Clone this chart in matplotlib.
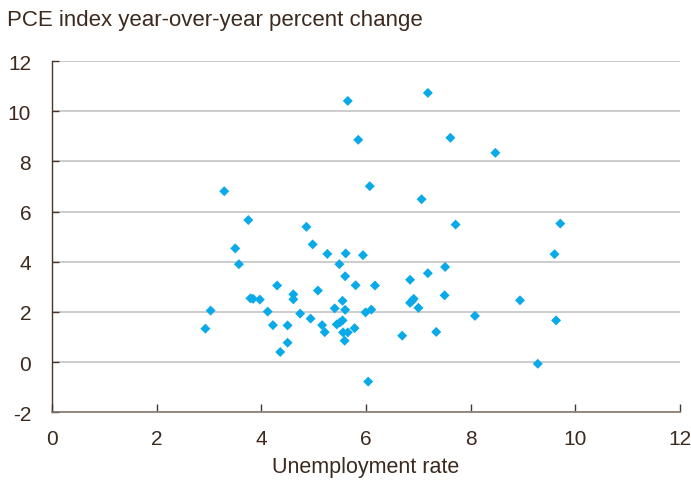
import matplotlib.pyplot as plt

# unemployment rate vs PCE inflation
unemployment = [2.93, 3.03, 3.29, 3.50, 3.57, 3.75, 3.79, 3.84, 3.97, 4.12,
                4.22, 4.30, 4.36, 4.50, 4.50, 4.61, 4.61, 4.74, 4.86, 4.94,
                4.98, 5.08, 5.16, 5.21, 5.26, 5.40, 5.44, 5.50, 5.49, 5.55,
                5.55, 5.56, 5.59, 5.60, 5.60, 5.61, 5.65, 5.65, 5.78, 5.80,
                5.85, 5.94, 5.99, 6.07, 6.04, 6.10, 6.17, 6.69, 6.84, 6.84,
                6.88, 6.91, 7.00, 7.06, 7.18, 7.18, 7.34, 7.50, 7.51, 7.61,
                7.71, 8.08, 8.47, 8.94, 9.28, 9.60, 9.63, 9.71]
pce_change = [1.33, 2.05, 6.81, 4.53, 3.90, 5.66, 2.54, 2.52, 2.49, 2.01,
              1.47, 3.05, 0.40, 1.46, 0.77, 2.70, 2.50, 1.93, 5.39, 1.73,
              4.69, 2.85, 1.47, 1.19, 4.31, 2.14, 1.50, 1.58, 3.90, 1.66,
              2.44, 1.18, 0.85, 3.42, 2.08, 4.33, 1.18, 10.41, 1.35, 3.06,
              8.86, 4.26, 1.98, 7.01, -0.78, 2.09, 3.05, 1.05, 3.28, 2.36,
              2.44, 2.52, 2.16, 6.49, 10.73, 3.54, 1.20, 2.66, 3.79, 8.94,
              5.48, 1.84, 8.34, 2.46, -0.07, 4.30, 1.66, 5.52]

x_ticks = [0, 2, 4, 6, 8, 10, 12]
y_ticks = [-2, 0, 2, 4, 6, 8, 10, 12]

text_color = '#3d2a1e'
plt.rcParams['font.family'] = ['Liberation Sans', 'DejaVu Sans']
plt.rcParams['axes.unicode_minus'] = False

fig = plt.figure(figsize=(6.91, 4.81), dpi=100)
ax = fig.add_axes([0.0753, 0.141, 0.909, 0.730])

ax.scatter(unemployment, pce_change, marker='D', s=26, color='#0aaae8',
           edgecolors='none', zorder=3)

ax.set_xlim(0, 12)
ax.set_ylim(-2, 12)
ax.set_xticks(x_ticks)
ax.set_yticks(y_ticks)
ax.yaxis.grid(True, color='#cccccc', linewidth=1.4)
ax.set_axisbelow(True)

for side in ['top', 'right']:
    ax.spines[side].set_visible(False)
ax.spines['left'].set_color('#4a3628')
ax.spines['bottom'].set_color('#85766b')
ax.spines['left'].set_linewidth(1.0)
ax.spines['bottom'].set_linewidth(1.2)

ax.tick_params(axis='x', direction='in', length=6, width=1, color='#4a3628',
               labelsize=15, labelcolor=text_color, pad=12)
ax.tick_params(axis='y', direction='in', length=5, width=1, color='#4a3628',
               labelsize=15, labelcolor=text_color, pad=15)

ax.set_xlabel('Unemployment rate', fontsize=15.5, color=text_color, labelpad=6)
fig.text(0.010, 0.958, 'PCE index year-over-year percent change',
         fontsize=16, color=text_color, ha='left', va='center')

fig.savefig('out.png', dpi=100)
